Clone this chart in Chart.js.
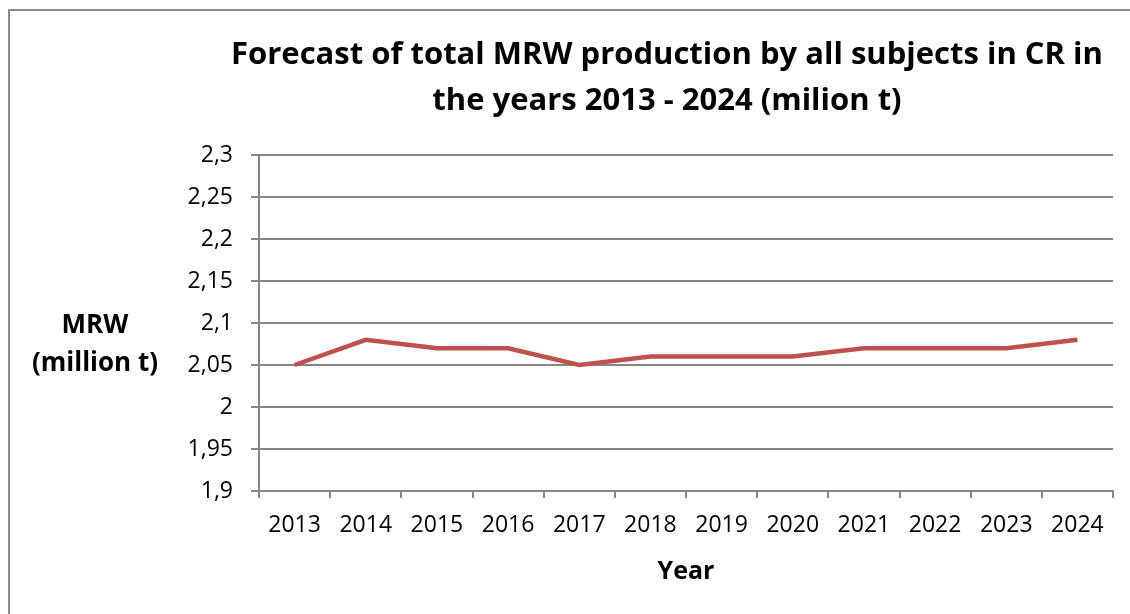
<!DOCTYPE html>
<html>
<head>
<meta charset="utf-8">
<script src="https://cdn.jsdelivr.net/npm/chart.js@4.4.0/dist/chart.umd.min.js"></script>
<style>
    html, body { margin: 0; padding: 0; background: #fff; overflow: hidden; }
    #frame { position: absolute; left: 8px; top: 9px; width: 1200px; height: 700px; border-left: 2px solid #8a8a8a; border-top: 2px solid #8a8a8a; }
    #wrap { position: absolute; left: 0; top: 0; width: 1130px; height: 614px; }
</style>
</head>
<body>
<div id="frame"></div>
<div id="wrap"><canvas id="mrwChart"></canvas></div>
<script>
var years = ["2013", "2014", "2015", "2016", "2017", "2018", "2019", "2020", "2021", "2022", "2023", "2024"];
var mrwValues = [2.05, 2.08, 2.07, 2.07, 2.05, 2.06, 2.06, 2.06, 2.07, 2.07, 2.07, 2.08];
var yTickLabels = ["1,9", "1,95", "2", "2,05", "2,1", "2,15", "2,2", "2,25", "2,3"];
var titleLines = ["Forecast of total MRW production by all subjects in CR in", "the years 2013 - 2024 (milion t)"];

var gridGray = "#868686";
var fontName = "'Open Sans', 'Noto Sans', sans-serif";

// title and y axis title are drawn by hand, the title sits a bit left of the plot centre
var textPlugin = {
    id: "chartTexts",
    afterDraw: function (chart) {
        var ctx = chart.ctx;
        var area = chart.chartArea;
        ctx.save();
        ctx.fillStyle = "#000";
        ctx.textAlign = "center";
        ctx.textBaseline = "middle";

        ctx.font = "bold 31px " + fontName;
        var tx = (area.left + area.right) / 2 - 19;
        ctx.fillText(titleLines[0], tx, 55);
        ctx.fillText(titleLines[1], tx, 101);

        ctx.font = "bold 26px " + fontName;
        var cx = area.left - 164;
        ctx.fillText("MRW", cx, 326);
        ctx.fillText("(million t)", cx, 364);
        ctx.restore();
    }
};

var ctx = document.getElementById("mrwChart").getContext("2d");
var myChart = new Chart(ctx, {
    type: "line",
    data: {
        labels: years,
        datasets: [
            {
                label: "MRW",
                data: mrwValues,
                borderColor: "#c0504d",
                backgroundColor: "#c0504d",
                borderWidth: 4.5,
                pointRadius: 0,
                tension: 0,
            },
        ],
    },
    options: {
        responsive: true,
        maintainAspectRatio: false,
        animation: false,
        layout: {
            padding: { left: 0, right: 17, top: 155, bottom: 0 },
        },
        plugins: {
            legend: { display: false },
            tooltip: { enabled: false },
            title: { display: false },
        },
        scales: {
            x: {
                offset: true,
                grid: {
                    offset: true,
                    drawOnChartArea: false,
                    drawTicks: true,
                    tickLength: 7,
                    color: gridGray,
                    lineWidth: 2,
                },
                border: { display: true, color: gridGray, width: 2 },
                ticks: {
                    color: "#000",
                    font: { family: fontName, size: 23 },
                    padding: 14,
                    maxRotation: 0,
                    autoSkip: false,
                },
                title: {
                    display: true,
                    text: "Year",
                    color: "#000",
                    font: { family: fontName, size: 25, weight: "bold" },
                    padding: { top: 0, bottom: 27 },
                },
                afterFit: function (scale) {
                    scale.height = 123;
                },
            },
            y: {
                min: 1.9,
                max: 2.3,
                grid: {
                    color: gridGray,
                    lineWidth: 2,
                    tickLength: 8,
                },
                border: { display: true, color: gridGray, width: 2 },
                ticks: {
                    stepSize: 0.05,
                    color: "#000",
                    font: { family: fontName, size: 23 },
                    padding: 18,
                    callback: function (value, index) {
                        return yTickLabels[index];
                    },
                },
                afterFit: function (scale) {
                    scale.width = 259;
                },
            },
        },
    },
    plugins: [textPlugin],
});
</script>
</body>
</html>
